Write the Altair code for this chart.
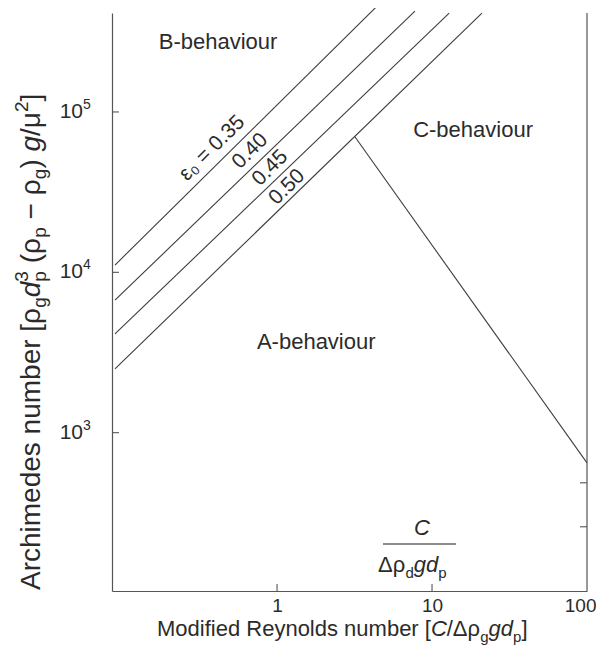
import altair as alt
import pandas as pd

# ---------------- data ----------------
eps_names = ["0.35", "0.40", "0.45", "0.50"]
eps_x_start = [0.090, 0.090, 0.090, 0.090]
eps_y_start = [11100, 6710, 4130, 2500]
eps_x_end = [4.35, 7.76, 12.9, 21.0]
eps_y_end = [450000, 425000, 413000, 413000]

ac_x = [3.18, 100]
ac_y = [70000, 648]

region_text = ["B-behaviour", "C-behaviour", "A-behaviour"]
region_x = [0.416, 18.4, 1.79]
region_y = [272000, 77100, 3680]

eps_label_text = ["ε₀ = 0.35", "0.40", "0.45", "0.50"]
eps_label_x = [0.381, 0.670, 0.902, 1.16]
eps_label_y = [59400, 57000, 44700, 34000]

x_ticks = [1, 10]
x_labels = [1, 10, 100]
y_ticks = [1000, 10000, 100000]
y_exp = ["3", "4", "5"]
right_ticks = [487, 259]

# ---------------- layout / style ----------------
W, H = 475, 578
XDOM = [0.0861, 100]
YDOM = [103, 414000]
TXT = "#2b2b2b"
AX = "#555555"
LN = "#3c3c3c"
FONT = "Liberation Sans"

xs = alt.Scale(type="log", domain=XDOM, nice=False)
ys = alt.Scale(type="log", domain=YDOM, nice=False)
xaxis = alt.Axis(values=x_labels, format="d", title=None, ticks=False, grid=False,
                 domainColor=AX, domainWidth=1.2, labelFont=FONT, labelFontSize=19,
                 labelColor=TXT, labelPadding=5, labelFlush=True, labelFlushOffset=9,
                 labelOverlap=False)
yaxis = alt.Axis(labels=False, ticks=False, grid=False, title=None,
                 domainColor=AX, domainWidth=1.2)

rows = []
for n, x0, y0, x1, y1 in zip(eps_names, eps_x_start, eps_y_start, eps_x_end, eps_y_end):
    rows.append(dict(series=n, x=x0, y=y0))
    rows.append(dict(series=n, x=x1, y=y1))
for x, y in zip(ac_x, ac_y):
    rows.append(dict(series="AC", x=x, y=y))
lines_df = pd.DataFrame(rows)

X = lambda f="x": alt.X(f"{f}:Q", scale=xs, axis=xaxis)
Y = lambda f="y": alt.Y(f"{f}:Q", scale=ys, axis=yaxis)

lines = alt.Chart(lines_df).mark_line(color=LN, strokeWidth=1.1).encode(
    x=X(), y=Y(), detail="series:N")

regions = alt.Chart(pd.DataFrame(dict(x=region_x, y=region_y, t=region_text))).mark_text(
    font=FONT, fontSize=22, color=TXT, align="center", baseline="middle").encode(
    x=X(), y=Y(), text="t:N")

eps_lab = alt.Chart(pd.DataFrame(dict(x=eps_label_x, y=eps_label_y, t=eps_label_text))).mark_text(
    font=FONT, fontSize=21, color=TXT, align="center", baseline="middle", angle=315).encode(
    x=X(), y=Y(), text="t:N")

xt = alt.Chart(pd.DataFrame(dict(x=x_ticks))).mark_rule(color=AX, strokeWidth=1.1).encode(
    x=X(), y=alt.value(H), y2=alt.value(H - 7))
yt = alt.Chart(pd.DataFrame(dict(y=y_ticks))).mark_rule(color=AX, strokeWidth=1.1).encode(
    y=Y(), x=alt.value(0), x2=alt.value(7))
rt = alt.Chart(pd.DataFrame(dict(y=right_ticks))).mark_rule(color=AX, strokeWidth=1.1).encode(
    y=Y(), x=alt.value(W), x2=alt.value(W - 7))
rborder = alt.Chart(pd.DataFrame(dict(a=[0]))).mark_rule(color=AX, strokeWidth=1.2).encode(
    x=alt.value(W), y=alt.value(0), y2=alt.value(H))

ylab_df = pd.DataFrame(dict(y=y_ticks, b=["10"] * 3, e=y_exp))
ylab = alt.Chart(ylab_df).mark_text(font=FONT, fontSize=21, color=TXT, align="right",
                                    baseline="middle").encode(
    x=alt.value(-29), y=Y(), text="b:N")
yexp = alt.Chart(ylab_df).mark_text(font=FONT, fontSize=14, color=TXT, align="left",
                                    baseline="middle", dy=-7).encode(
    x=alt.value(-29), y=Y(), text="e:N")

# ---------------- rich text (titles, fraction) ----------------
WID = {"A": 667, "B": 667, "C": 722, "M": 833, "R": 722, "a": 556, "b": 556, "c": 500,
       "d": 556, "e": 556, "f": 278, "g": 556, "h": 556, "i": 222, "l": 222, "m": 833,
       "n": 556, "o": 556, "p": 556, "r": 333, "s": 500, "u": 556, "v": 500, "y": 500,
       " ": 278, "[": 278, "]": 278, "(": 333, ")": 333, "/": 278, "−": 584, "-": 333,
       "Δ": 668, "ρ": 577, "μ": 577, "=": 584, ".": 278}


def tw(s, size):
    return sum(WID.get(c, 556) for c in s) * size / 1000


def rich(pieces, x0, y0, size, rot=False, sub_k=0.25):
    out = []
    adv = 0.0
    small = round(size * 0.68)
    for text, style, pos in pieces:
        if pos == "stack":
            sup, sub = text.split("|")
            parts = [(sup, -size * 0.42), (sub, size * sub_k)]
            fs = small
            step = max(tw(sup, fs), tw(sub, fs))
        else:
            fs = size if pos == "n" else small
            # leading/trailing spaces are collapsed in SVG: move them into the advance
            lead = len(text) - len(text.lstrip(" "))
            adv += tw(" " * lead, fs)
            step = tw(text.lstrip(" "), fs)
            text = text.strip(" ")
            shift = {"n": 0, "sub": size * sub_k, "sup": -size * 0.42}[pos]
            parts = [(text, shift)]
        for t, sh in parts:
            if rot:
                px, py = x0 + sh, y0 - adv
            else:
                px, py = x0 + adv, y0 + sh
            out.append(dict(px=px, py=py, t=t, fs=fs, it=(style == "i"),
                            ang=270 if rot else 0))
        adv += step
    return out


xtitle = [("Modified Reynolds number [", "n", "n"), ("C", "i", "n"), ("/Δρ", "n", "n"),
          ("g", "n", "sub"), ("gd", "i", "n"), ("p", "n", "sub"), ("]", "n", "n")]
ytitle = [("Archimedes number [ρ", "n", "n"), ("g", "n", "sub"), ("d", "i", "n"),
          ("3|p", "n", "stack"), (" (ρ", "n", "n"), ("p", "n", "sub"), (" − ρ", "n", "n"),
          ("g", "n", "sub"), (") ", "n", "n"), ("g", "i", "n"), ("/μ", "n", "n"),
          ("2", "n", "sup"), ("]", "n", "n")]
frac_num = [("C", "i", "n")]
frac_den = [("Δρ", "n", "n"), ("d", "n", "sub"), ("gd", "i", "n"), ("p", "n", "sub")]

rich_rows = []
rich_rows += rich(xtitle, 45, 623, 22)
rich_rows += rich(ytitle, -72, 577, 28, rot=True, sub_k=0.2)
rich_rows += rich(frac_num, 302, 522, 22)
rich_rows += rich(frac_den, 266, 559, 22)
rich_df = pd.DataFrame(rich_rows)


def rich_layer(df, italic):
    return alt.Chart(df).mark_text(font=FONT, color=TXT, align="left", baseline="alphabetic",
                                   fontStyle="italic" if italic else "normal").encode(
        x=alt.X("px:Q", scale=None, axis=None),
        y=alt.Y("py:Q", scale=None, axis=None),
        text="t:N",
        size=alt.Size("fs:Q", scale=None, legend=None),
        angle=alt.Angle("ang:Q", scale=None, legend=None))


rich_n = rich_layer(rich_df[~rich_df.it], False)
rich_i = rich_layer(rich_df[rich_df.it], True)

frac_bar = alt.Chart(pd.DataFrame(dict(a=[0]))).mark_rule(color="#666666", strokeWidth=1.3).encode(
    x=alt.value(271), x2=alt.value(344), y=alt.value(531))

chart = alt.layer(lines, regions, eps_lab, xt, yt, rt, rborder, ylab, yexp,
                  rich_n, rich_i, frac_bar).properties(
    width=W, height=H,
    autosize=alt.AutoSizeParams(type="none"),
    padding={"left": 104, "top": 5, "right": 9, "bottom": 55},
).configure_view(stroke=None)

chart.save("out.html", embed_options={"renderer": "svg", "actions": False})
